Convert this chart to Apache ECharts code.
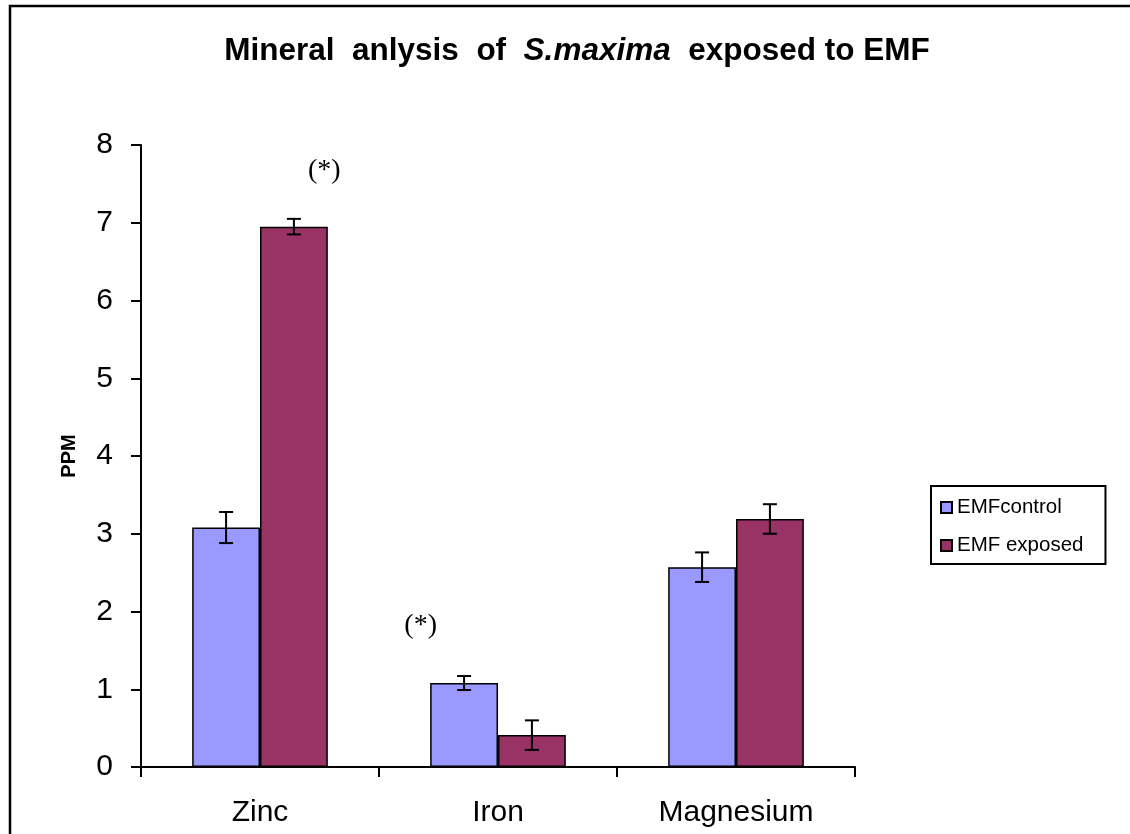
<!DOCTYPE html>
<html>
<head>
<meta charset="utf-8">
<script src="https://cdn.jsdelivr.net/npm/echarts@6/dist/echarts.min.js"></script>
<style>
  html, body { margin: 0; padding: 0; background: #fff; }
  #chart { width: 1130px; height: 834px; }
</style>
</head>
<body>
<div id="chart"></div>
<script>
// Mineral content (PPM) of S. maxima, control vs EMF exposed
const categories = ['Zinc', 'Iron', 'Magnesium'];
const controlValues = [3.08, 1.08, 2.57];
const controlErrors = [0.20, 0.09, 0.19];
const exposedValues = [6.95, 0.41, 3.19];
const exposedErrors = [0.10, 0.19, 0.19];
const seriesNames = ['EMFcontrol', 'EMF exposed'];
const yTicks = [0, 1, 2, 3, 4, 5, 6, 7, 8];
// significance marks: category, y value, horizontal shift as a fraction of the band
const significance = [
  { category: 'Zinc', value: 7.67, shift: 0.27, text: '(*)' },
  { category: 'Iron', value: 1.82, shift: -0.325, text: '(*)' }
];

const FONT = '"Liberation Sans", Arial, sans-serif';
const SERIF = '"Liberation Serif", "Times New Roman", serif';
const BAR_CATEGORY_GAP = 0.43;

const chart = echarts.init(document.getElementById('chart'), null, { renderer: 'canvas' });

function errorBarRenderer(seriesIndex) {
  return function (params, api) {
    const cat = api.value(0);
    const val = api.value(1);
    const err = api.value(2);
    const band = api.size([1, 0])[0];
    const barW = band * (1 - BAR_CATEGORY_GAP) / 2;
    const base = api.coord([cat, val]);
    const cx = base[0] + (seriesIndex === 0 ? -barW / 2 : barW / 2);
    const yTop = api.coord([cat, val + err])[1];
    const yBot = api.coord([cat, val - err])[1];
    const cap = 7;
    const style = { stroke: '#000', lineWidth: 2 };
    return {
      type: 'group',
      children: [
        { type: 'line', shape: { x1: cx, y1: yTop, x2: cx, y2: yBot }, style },
        { type: 'line', shape: { x1: cx - cap, y1: yTop, x2: cx + cap, y2: yTop }, style },
        { type: 'line', shape: { x1: cx - cap, y1: yBot, x2: cx + cap, y2: yBot }, style }
      ]
    };
  };
}

const option = {
  backgroundColor: '#fff',
  animation: false,
  graphic: [
    {
      type: 'rect',
      shape: { x: 10, y: 6, width: 1300, height: 1000 },
      style: { fill: 'none', stroke: '#000', lineWidth: 2.5 },
      silent: true
    },
    {
      type: 'text',
      x: 577, y: 35,
      style: {
        text: '{b|Mineral  anlysis  of  }{i|S.maxima}{b|  exposed to EMF}',
        align: 'center',
        rich: {
          b: { fontFamily: FONT, fontWeight: 'bold', fontSize: 31.5, fill: '#000' },
          i: { fontFamily: FONT, fontWeight: 'bold', fontStyle: 'italic', fontSize: 31.5, fill: '#000' }
        }
      }
    }
  ],
  legend: {
    orient: 'vertical',
    left: 931,
    top: 486,
    padding: [11, 22, 8, 9],
    itemGap: 17,
    itemWidth: 11,
    itemHeight: 11,
    itemTextGap: 12,
    borderColor: '#000',
    borderWidth: 2,
    icon: 'rect',
    data: seriesNames,
    textStyle: { fontFamily: FONT, fontSize: 20.5, lineHeight: 20, color: '#000' }
  },
  grid: { left: 141, right: 275, top: 145, bottom: 67, containLabel: false },
  xAxis: {
    type: 'category',
    data: categories,
    axisLine: { lineStyle: { color: '#000', width: 2 } },
    axisTick: { show: true, length: 10, inside: false, lineStyle: { color: '#000', width: 2 } },
    axisLabel: { fontFamily: FONT, fontSize: 30, color: '#000', margin: 31 },
    splitLine: { show: false }
  },
  yAxis: {
    type: 'value',
    min: yTicks[0],
    max: yTicks[yTicks.length - 1],
    interval: 1,
    name: 'PPM',
    nameLocation: 'middle',
    nameGap: 62,
    nameRotate: 90,
    nameTextStyle: { fontFamily: FONT, fontSize: 20, fontWeight: 'bold', color: '#000' },
    axisLine: { show: true, lineStyle: { color: '#000', width: 2 } },
    axisTick: { show: true, length: 10, inside: false, lineStyle: { color: '#000', width: 2 } },
    axisLabel: { fontFamily: FONT, fontSize: 30, color: '#000', margin: 28 },
    splitLine: { show: false }
  },
  series: [
    {
      name: seriesNames[0],
      type: 'bar',
      data: controlValues,
      barGap: '0%',
      barCategoryGap: (BAR_CATEGORY_GAP * 100) + '%',
      itemStyle: { color: '#9999FF', borderColor: '#000', borderWidth: 1.5 }
    },
    {
      name: seriesNames[1],
      type: 'bar',
      data: exposedValues,
      barGap: '0%',
      barCategoryGap: (BAR_CATEGORY_GAP * 100) + '%',
      itemStyle: { color: '#993366', borderColor: '#000', borderWidth: 1.5 }
    },
    {
      name: 'controlError',
      type: 'custom',
      renderItem: errorBarRenderer(0),
      encode: { x: 0, y: 1 },
      data: controlValues.map((v, i) => [i, v, controlErrors[i]]),
      z: 10
    },
    {
      name: 'exposedError',
      type: 'custom',
      renderItem: errorBarRenderer(1),
      encode: { x: 0, y: 1 },
      data: exposedValues.map((v, i) => [i, v, exposedErrors[i]]),
      z: 10
    },
    {
      name: 'significance',
      type: 'custom',
      encode: { x: 0, y: 1 },
      data: significance.map(s => [categories.indexOf(s.category), s.value, s.shift]),
      renderItem: function (params, api) {
        const band = api.size([1, 0])[0];
        const p = api.coord([api.value(0), api.value(1)]);
        return {
          type: 'text',
          x: p[0] + api.value(2) * band,
          y: p[1],
          style: {
            text: significance[params.dataIndex].text,
            fontFamily: SERIF,
            fontSize: 28,
            fill: '#000',
            align: 'center',
            verticalAlign: 'middle'
          }
        };
      },
      z: 10
    }
  ]
};

chart.setOption(option);
</script>
</body>
</html>
